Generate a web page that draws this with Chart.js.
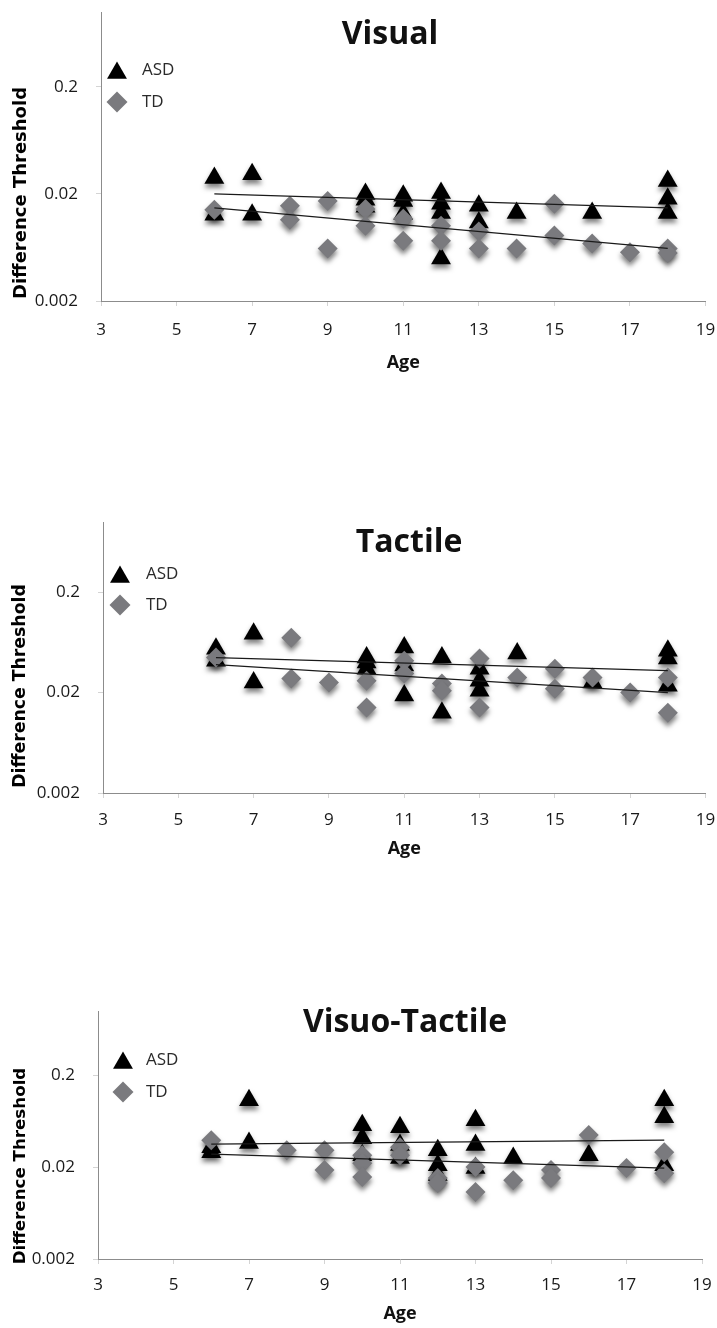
<!DOCTYPE html>
<html>
<head>
<meta charset="utf-8">
<script src="https://cdn.jsdelivr.net/npm/chart.js@4.4.1/dist/chart.umd.min.js"></script>
<style>
html,body{margin:0;padding:0;background:#ffffff;}
body{width:717px;height:1328px;position:relative;overflow:hidden;}
.panel{position:absolute;left:0;width:717px;}
canvas{display:block;}
</style>
</head>
<body>
<div class="panel" style="top:0px;height:380px"><canvas id="c1" width="717" height="380"></canvas></div>
<div class="panel" style="top:380px;height:490px"><canvas id="c2" width="717" height="490"></canvas></div>
<div class="panel" style="top:870px;height:458px"><canvas id="c3" width="717" height="458"></canvas></div>
<script>
// ---------- data ----------
const yTickValues = [0.002, 0.02, 0.2];
const yTickLabels = ['0.002', '0.02', '0.2'];
const xTickValues = [3, 5, 7, 9, 11, 13, 15, 17, 19];
const trendAges = [6, 18];
const seriesNames = ['ASD', 'TD'];
const panelTitles = ['Visual', 'Tactile', 'Visuo-Tactile'];
const xAxisTitle = 'Age';
const yAxisTitle = 'Difference Threshold';

// Visual
const visualAsdAge   = [6, 6, 7, 7, 10, 10, 10, 11, 11, 11, 12, 12, 12, 12, 13, 13, 14, 16, 18, 18, 18];
const visualAsdValue = [0.0281, 0.0128, 0.0306, 0.0128, 0.0200, 0.0176, 0.0152, 0.0192, 0.0172, 0.0130, 0.0204, 0.0162, 0.0133, 0.0050, 0.0155, 0.0108, 0.0133, 0.0133, 0.0264, 0.0180, 0.0133];
const visualTdAge    = [6, 8, 8, 9, 9, 10, 10, 11, 11, 12, 12, 13, 13, 14, 15, 15, 16, 17, 18, 18];
const visualTdValue  = [0.0142, 0.0155, 0.0115, 0.0172, 0.0062, 0.0145, 0.0101, 0.0117, 0.0073, 0.0101, 0.0073, 0.0089, 0.0062, 0.0062, 0.0162, 0.0082, 0.0069, 0.0057, 0.0062, 0.0056];
const visualAsdTrend = [0.0200, 0.0148];
const visualTdTrend  = [0.0148, 0.0062];

// Tactile
const tactileAsdAge   = [6, 6, 7, 7, 10, 10, 10, 11, 11, 11, 12, 12, 13, 13, 13, 14, 16, 18, 18, 18];
const tactileAsdValue = [0.0548, 0.0416, 0.0773, 0.0252, 0.0446, 0.0398, 0.0346, 0.0561, 0.0372, 0.0187, 0.0446, 0.0126, 0.0346, 0.0263, 0.0209, 0.0489, 0.0252, 0.0523, 0.0436, 0.0234];
const tactileTdAge    = [6, 8, 8, 9, 10, 10, 11, 11, 12, 12, 13, 13, 14, 15, 15, 16, 17, 18, 18];
const tactileTdValue  = [0.0446, 0.0705, 0.0276, 0.0252, 0.0263, 0.0142, 0.0416, 0.0309, 0.0246, 0.0209, 0.0436, 0.0142, 0.0282, 0.0346, 0.0219, 0.0282, 0.0200, 0.0282, 0.0126];
const tactileAsdTrend = [0.0446, 0.0331];
const tactileTdTrend  = [0.0380, 0.0200];

// Visuo-Tactile
const vtAsdAge   = [6, 6, 7, 7, 10, 10, 10, 11, 11, 11, 12, 12, 12, 13, 13, 13, 14, 16, 18, 18, 18];
const vtAsdValue = [0.0330, 0.0291, 0.1070, 0.0365, 0.0572, 0.0413, 0.0270, 0.0544, 0.0347, 0.0251, 0.0306, 0.0210, 0.0164, 0.0649, 0.0347, 0.0195, 0.0251, 0.0270, 0.1070, 0.0699, 0.0210];
const vtTdAge    = [6, 8, 9, 9, 10, 10, 10, 11, 11, 12, 12, 13, 13, 14, 15, 15, 16, 17, 18, 18];
const vtTdValue  = [0.0393, 0.0306, 0.0306, 0.0186, 0.0270, 0.0221, 0.0156, 0.0330, 0.0270, 0.0152, 0.0134, 0.0200, 0.0107, 0.0144, 0.0186, 0.0152, 0.0446, 0.0195, 0.0291, 0.0172];
const vtAsdTrend = [0.0356, 0.0393];
const vtTdTrend  = [0.0277, 0.0195];

// ---------- layout / style ----------
const FONT = '"Open Sans", "Liberation Sans", sans-serif';
const ASD_COLOR = '#000000';
const TD_COLOR = '#7a7a7e';

const panels = [
  { canvas: 'c1', H: 380, area: {l: 101, r: 708, t: 12, b: 301},
    title: panelTitles[0], titleX: 390, titleY: 35,
    legX: 117, legY: [70, 102], legTextX: 142,
    yTitleX: 21, yTitleY: 193, yTitleSize: 18,
    tickCenter: 330, ageCenter: 363,
    asd: [visualAsdAge, visualAsdValue], td: [visualTdAge, visualTdValue],
    asdTrend: visualAsdTrend, tdTrend: visualTdTrend },
  { canvas: 'c2', H: 490, area: {l: 103, r: 707, t: 142, b: 413},
    title: panelTitles[1], titleX: 409, titleY: 163,
    legX: 120, legY: [194, 225], legTextX: 146,
    yTitleX: 21, yTitleY: 306, yTitleSize: 17.3,
    tickCenter: 440, ageCenter: 469,
    asd: [tactileAsdAge, tactileAsdValue], td: [tactileTdAge, tactileTdValue],
    asdTrend: tactileAsdTrend, tdTrend: tactileTdTrend },
  { canvas: 'c3', H: 458, area: {l: 98, r: 702, t: 141, b: 389},
    title: panelTitles[2], titleX: 405, titleY: 153,
    legX: 123, legY: [190, 222], legTextX: 146,
    yTitleX: 21, yTitleY: 296, yTitleSize: 16.7,
    tickCenter: 415, ageCenter: 444,
    asd: [vtAsdAge, vtAsdValue], td: [vtTdAge, vtTdValue],
    asdTrend: vtAsdTrend, tdTrend: vtTdTrend }
];

function toPoints(ages, values) {
  return ages.map((a, i) => ({x: a, y: values[i]}));
}

function triPath(ctx, cx, cy, r) {
  ctx.beginPath();
  ctx.moveTo(cx, cy - r);
  ctx.lineTo(cx + 0.8660254 * r, cy + 0.5 * r);
  ctx.lineTo(cx - 0.8660254 * r, cy + 0.5 * r);
  ctx.closePath();
}
function diaPath(ctx, cx, cy, r) {
  ctx.beginPath();
  ctx.moveTo(cx, cy - r);
  ctx.lineTo(cx + r, cy);
  ctx.lineTo(cx, cy + r);
  ctx.lineTo(cx - r, cy);
  ctx.closePath();
}

const decorPlugin = {
  id: 'decor',
  beforeDatasetDraw(chart, args) {
    const ds = chart.data.datasets[args.index];
    if (ds.markerShadow) {
      const c = chart.ctx;
      c.save();
      c.shadowColor = 'rgba(0,0,0,0.5)';
      c.shadowBlur = 5;
      c.shadowOffsetX = 0;
      c.shadowOffsetY = 4;
    }
  },
  afterDatasetDraw(chart, args) {
    const ds = chart.data.datasets[args.index];
    if (ds.markerShadow) chart.ctx.restore();
  },
  afterDraw(chart, args, o) {
    const ctx = chart.ctx;
    ctx.save();
    ctx.fillStyle = '#111111';
    ctx.font = '700 32px ' + FONT;
    ctx.textAlign = 'center';
    ctx.textBaseline = 'middle';
    ctx.fillText(o.title, o.titleX, o.titleY);
    const rt = 11.5;
    ctx.fillStyle = ASD_COLOR;
    triPath(ctx, o.legX, o.legY[0] + rt / 4, rt);
    ctx.fill();
    ctx.fillStyle = TD_COLOR;
    diaPath(ctx, o.legX, o.legY[1], 10.5);
    ctx.fill();
    ctx.fillStyle = '#2a2a2a';
    ctx.font = '400 17px ' + FONT;
    ctx.textAlign = 'left';
    ctx.fillText(seriesNames[0], o.legTextX, o.legY[0]);
    ctx.fillText(seriesNames[1], o.legTextX, o.legY[1]);
    ctx.translate(o.yTitleX, o.yTitleY);
    ctx.rotate(-Math.PI / 2);
    ctx.fillStyle = '#000000';
    ctx.font = '700 ' + o.yTitleSize + 'px "DejaVu Sans", sans-serif';
    ctx.textAlign = 'center';
    ctx.textBaseline = 'middle';
    ctx.fillText(yAxisTitle, 0, 0);
    ctx.restore();
  }
};

function makeChart(p) {
  const W = 717;
  const tickLen = 5;
  const tickLine = 17 * 1.2;
  const ageLine = 18 * 1.2;
  const xPad = p.tickCenter - p.area.b - tickLen - tickLine / 2;
  const agePadBottom = p.H - p.ageCenter - ageLine / 2;
  new Chart(document.getElementById(p.canvas), {
    type: 'scatter',
    data: {
      datasets: [
        { label: seriesNames[0] + ' trend', type: 'line', data: trendAges.map((a, i) => ({x: a, y: p.asdTrend[i]})),
          borderColor: '#1a1a1a', borderWidth: 1.2, pointRadius: 0, fill: false, order: 0 },
        { label: seriesNames[1] + ' trend', type: 'line', data: trendAges.map((a, i) => ({x: a, y: p.tdTrend[i]})),
          borderColor: '#1a1a1a', borderWidth: 1.2, pointRadius: 0, fill: false, order: 0 },
        { label: seriesNames[1], data: toPoints(p.td[0], p.td[1]), pointStyle: 'rectRot', pointRadius: 10,
          backgroundColor: TD_COLOR, borderWidth: 0, markerShadow: true, order: 1 },
        { label: seriesNames[0], data: toPoints(p.asd[0], p.asd[1]), pointStyle: 'triangle', pointRadius: 11.5,
          backgroundColor: ASD_COLOR, borderWidth: 0, markerShadow: true, order: 2 }
      ]
    },
    options: {
      responsive: false,
      animation: false,
      events: [],
      layout: { padding: { left: 0, top: p.area.t, right: W - p.area.r, bottom: 0 } },
      plugins: {
        legend: { display: false },
        title: { display: false },
        tooltip: { enabled: false },
        decor: p
      },
      scales: {
        x: {
          type: 'linear', min: 3, max: 19,
          afterBuildTicks(scale) { scale.ticks = xTickValues.map(v => ({value: v})); },
          afterFit(scale) { scale.height = p.H - p.area.b; scale.paddingLeft = 0; scale.paddingRight = 0; },
          grid: { display: true, drawOnChartArea: false, drawTicks: true, tickLength: tickLen, color: '#d4d4d4', lineWidth: 1 },
          border: { display: true, color: '#8c8c8c', width: 1 },
          ticks: { padding: xPad, color: '#1a1a1a', font: { family: FONT, size: 17 }, maxRotation: 0, autoSkip: false },
          title: { display: true, text: xAxisTitle, color: '#111111', font: { family: FONT, size: 18, weight: '700' },
                   padding: { top: 0, bottom: agePadBottom } }
        },
        y: {
          type: 'logarithmic', min: 0.002, max: 1,
          afterBuildTicks(scale) { scale.ticks = yTickValues.map(v => ({value: v})); },
          afterFit(scale) { scale.width = p.area.l; scale.paddingTop = 0; scale.paddingBottom = 0; },
          grid: { display: true, drawOnChartArea: false, drawTicks: true, tickLength: tickLen, color: '#d4d4d4', lineWidth: 1 },
          border: { display: true, color: '#8c8c8c', width: 1 },
          ticks: { padding: 18, color: '#1a1a1a', font: { family: FONT, size: 17 },
                   callback: (v) => { const i = yTickValues.indexOf(v); return i >= 0 ? yTickLabels[i] : ''; } }
        }
      }
    },
    plugins: [decorPlugin]
  });
}

panels.forEach(makeChart);
</script>
</body>
</html>
